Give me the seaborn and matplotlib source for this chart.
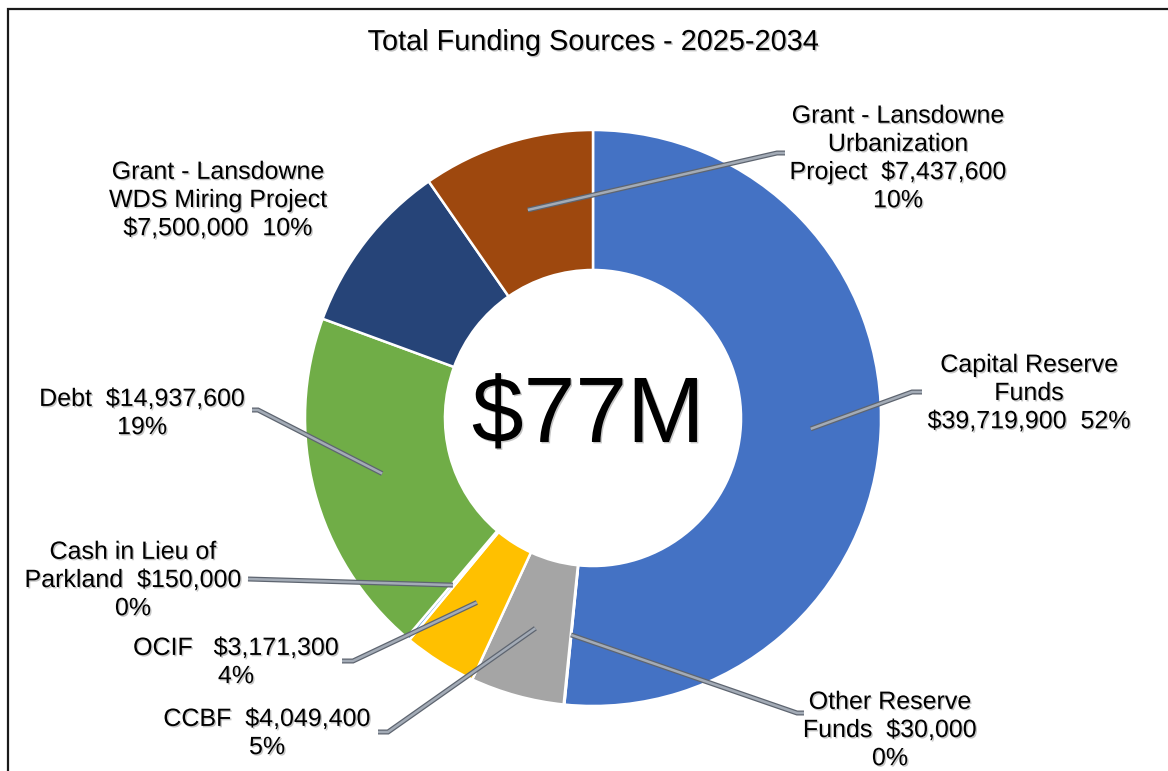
import matplotlib
matplotlib.use("Agg")
import numpy as np
import matplotlib.pyplot as plt
import matplotlib.patheffects as pe
from matplotlib.patches import Rectangle
import seaborn as sns

# ---- data -------------------------------------------------------------
categories = [
    "Capital Reserve Funds",
    "Other Reserve Funds",
    "CCBF",
    "OCIF",
    "Cash in Lieu of Parkland",
    "Debt",
    "Grant - Lansdowne WDS Miring Project",
    "Grant - Lansdowne Urbanization Project",
]
amounts = [39719900, 30000, 4049400, 3171300, 150000, 14937600, 7500000, 7437600]
label_names = [
    "Capital Reserve\nFunds",
    "Other Reserve\nFunds",
    "CCBF",
    "OCIF ",
    "Cash in Lieu of\nParkland",
    "Debt",
    "Grant - Lansdowne\nWDS Miring Project",
    "Grant - Lansdowne\nUrbanization\nProject",
]
title_text = "Total Funding Sources - 2025-2034"
center_text = "$77M"

# ---- style ------------------------------------------------------------
sns.set_theme(style="white")
plt.rcParams["font.family"] = ["Liberation Sans", "DejaVu Sans"]
palette = sns.color_palette(["#4472C4", "#ED7D31", "#A5A5A5", "#FFC000",
                             "#5B9BD5", "#70AD47", "#264478", "#9E480E"])

W, H = 1168, 771
CX, CY, R = 593, 418, 288          # donut centre and radius in pixels


def px(x, y):
    """Pixel position -> data coordinates (donut radius = 1)."""
    return (x - CX) / R, (CY - y) / R


# separators: (between name and amount, between amount and percent)
label_seps = [("\n", "  "), ("  ", "\n"), ("  ", "\n"), ("  ", "\n"),
              ("  ", "\n"), ("  ", "\n"), ("\n", "  "), ("  ", "\n")]
# label centres (pixels)
label_pos = [(1029, 393), (890, 730), (267, 733), (236, 662),
             (133, 580), (142, 413), (218, 200), (898, 158)]
# leader line bends / ends (pixels); None = no leader
leader_pts = [
    [(912, 392), (922, 392)],
    [(797, 713), (804, 713)],
    [(388, 732), (378, 732)],
    [(353, 661), (342, 661)],
    [(248, 579)],
    [(258, 410), (252, 410)],
    None,
    [(777, 153), (785, 153)],
]

fig = plt.figure(figsize=(W / 100, H / 100), dpi=100)
ax = fig.add_axes([0, 0, 1, 1])

wedges, _ = ax.pie(
    amounts, colors=palette, startangle=90, counterclock=False, radius=1,
    wedgeprops=dict(width=0.486, edgecolor="white", linewidth=1.8),
)
ax.set_xlim(-CX / R, (W - CX) / R)
ax.set_ylim(-(H - CY) / R, CY / R)
ax.axis("off")

shadow = [pe.withSimplePatchShadow(offset=(1.0, -1.0), shadow_rgbFace="#808080", alpha=0.45)]

total = sum(amounts)
for i, (w, name, amt) in enumerate(zip(wedges, label_names, amounts)):
    s1, s2 = label_seps[i]
    pct = round(100 * amt / total)
    text = f"{name}{s1}${amt:,}{s2}{pct}%"
    ax.text(*px(*label_pos[i]), text, ha="center", va="center", ma="center",
            fontsize=18, linespacing=1.22, color="black", path_effects=shadow,
            zorder=6)
    if leader_pts[i] is not None:
        mid = np.deg2rad((w.theta1 + w.theta2) / 2)
        rr = 0.757
        xs = [rr * np.cos(mid)] + [px(*p)[0] for p in leader_pts[i]]
        ys = [rr * np.sin(mid)] + [px(*p)[1] for p in leader_pts[i]]
        ax.plot(xs, ys, color="#A3ABB6", lw=1.8, solid_capstyle="butt",
                solid_joinstyle="miter", zorder=5,
                path_effects=[pe.Stroke(linewidth=3.6, foreground="#5E6570"),
                              pe.Normal()])

ax.text(*px(593, 42), title_text, ha="center", va="center", fontsize=20.8,
        color="black", path_effects=shadow)
ax.text(*px(588, 442), center_text, ha="center", va="baseline", fontsize=67,
        color="black", path_effects=shadow)

fig.patches.append(Rectangle((8 / W, -0.05), 1.2, (H - 9) / H + 0.05,
                             transform=fig.transFigure, fill=False,
                             edgecolor="#1a1a1a", lw=1.6))

fig.savefig("out.png", dpi=100)
